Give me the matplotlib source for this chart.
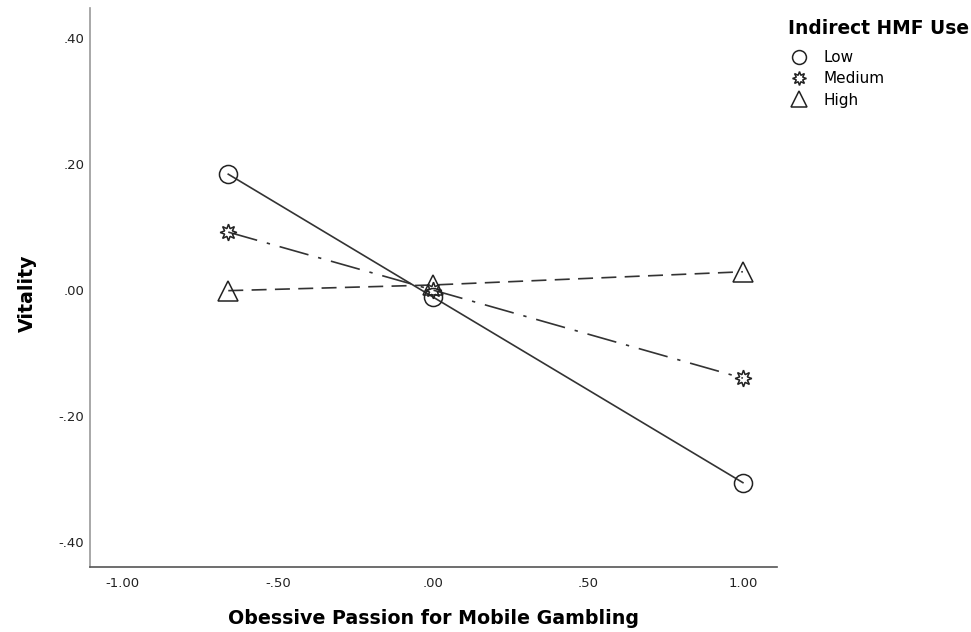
import matplotlib
matplotlib.use("Agg")
import matplotlib.pyplot as plt
from matplotlib.lines import Line2D

plt.rcParams['font.family'] = ['DejaVu Sans']

x_values = [-0.66, 0.0, 1.0]
groups = ["Low", "Medium", "High"]
low = [0.184, -0.011, -0.306]
medium = [0.092, 0.0, -0.140]
high = [-0.001, 0.008, 0.029]
series = [low, medium, high]

x_ticks = [-1.0, -0.5, 0.0, 0.5, 1.0]
x_ticklabels = ["-1.00", "-.50", ".00", ".50", "1.00"]
y_ticks = [-0.4, -0.2, 0.0, 0.2, 0.4]
y_ticklabels = ["-.40", "-.20", ".00", ".20", ".40"]

markers = ['o', (8, 1, 0), '^']
msizes = [13, 12, 14]
linestyles = ['-', (0, (18, 6, 2, 6)), (0, (9, 5))]

fig = plt.figure(figsize=(9.71, 6.32), dpi=100)
ax = fig.add_axes([90/971, 1-567/632, (777-90)/971, (567-8)/632])

for vals, m, ms, ls in zip(series, markers, msizes, linestyles):
    ax.plot(x_values, vals, color='#333333', linestyle=ls, linewidth=1.2,
            marker=m, markersize=ms, markerfacecolor='none',
            markeredgecolor='#222222', markeredgewidth=1.1)

ax.set_xlim(-1.106, 1.11)
ax.set_ylim(-0.44, 0.448)
ax.set_xticks(x_ticks)
ax.set_xticklabels(x_ticklabels)
ax.set_yticks(y_ticks)
ax.set_yticklabels(y_ticklabels)
ax.tick_params(length=0, labelsize=9.5, colors='#222222')
ax.tick_params(axis='y', pad=4)
ax.tick_params(axis='x', pad=7.5)
for s in ['top', 'right']:
    ax.spines[s].set_visible(False)
ax.spines['left'].set_color('#999999')
ax.spines['bottom'].set_color('#555555')
ax.spines['left'].set_linewidth(1.2)
ax.spines['bottom'].set_linewidth(1.2)

ax.set_xlabel("Obessive Passion for Mobile Gambling", fontsize=13.7, fontweight='bold')
ax.xaxis.set_label_coords(0.5, (567-609)/559)
ax.set_ylabel("Vitality", fontsize=13.7, fontweight='bold')
ax.yaxis.set_label_coords((37-90)/687, 0.49)

fig.text(788/971, 1-28/632, "Indirect HMF Use", fontsize=13.4, fontweight='bold',
         ha='left', va='center')

handles = [Line2D([], [], linestyle='none', marker=m, markersize=s,
                  markerfacecolor='none', markeredgecolor='#222222', markeredgewidth=1.1)
           for m, s in zip(markers, [10, 10, 11])]
leg = fig.legend(handles, groups, loc='upper left', bbox_to_anchor=(788/971, 1-50/632),
                 frameon=False, fontsize=11,
                 handlelength=1.4, handletextpad=0.9, labelspacing=0.42,
                 borderaxespad=0, borderpad=0)

fig.savefig("out.png", dpi=100)
